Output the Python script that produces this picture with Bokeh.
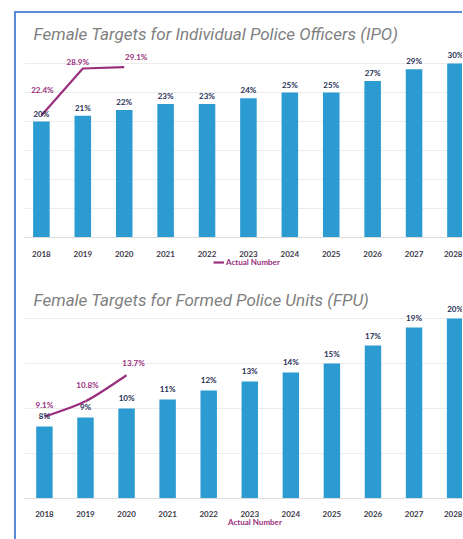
from bokeh.plotting import figure
from bokeh.models import (ColumnDataSource, Range1d, LabelSet, Label, FixedTicker, Legend,
                          LegendItem)
from bokeh.core.properties import value
from bokeh.layouts import column
from bokeh.embed import file_html
from bokeh.resources import INLINE

years = ["2018", "2019", "2020", "2021", "2022", "2023", "2024", "2025", "2026", "2027", "2028"]
ipo_target = [20, 21, 22, 23, 23, 24, 25, 25, 27, 29, 30]
ipo_actual = [22.4, 28.9, 29.1]
fpu_target = [8, 9, 10, 11, 12, 13, 14, 15, 17, 19, 20]
fpu_actual = [9.1, 10.8, 13.7]

ipo_title = "Female Targets for Individual Police Officers (IPO)"
fpu_title = "Female Targets for Formed Police Units (FPU)"
legend_text = "Actual Number"

# label placement (screen px), style only
ipo_lbl_dx = [1, -5, 12]
ipo_lbl_dy = [25, 6, 10]
fpu_lbl_dx = [0, 2, 7]
fpu_lbl_dy = [12, 16, 12]

BAR = "#2b9bd2"
PURPLE = "#9a2f7e"
NAVY = "#1f2f55"
GRID = "#ececec"
TITLE_C = "#7f7f7f"
SMALL_FONT = "Lato"


def make_chart(title, target, actual, dx, dy, height, xr, yr, line_range, bar_dy,
               title_dy, legend_loc, smooth, grid_ticks):
    p = figure(width=446, height=height, output_backend="svg", toolbar_location=None,
               x_range=Range1d(*xr), y_range=Range1d(*yr),
               min_border_left=8, min_border_right=0,
               min_border_top=0, min_border_bottom=0)
    p.outline_line_color = None
    p.yaxis.visible = False
    p.xgrid.visible = False
    p.ygrid.grid_line_color = GRID
    p.ygrid.ticker = FixedTicker(ticks=grid_ticks)

    idx = list(range(len(years)))
    src = ColumnDataSource(dict(x=idx, y=target, lbl=[f"{v}%" for v in target]))
    p.vbar(x="x", top="y", width=0.4, source=src, color=BAR, line_color=None)
    p.add_layout(LabelSet(x="x", y="y", text="lbl", source=src, y_offset=bar_dy,
                          text_align="center", text_baseline="middle",
                          text_font=value(SMALL_FONT), text_font_style="bold",
                          text_font_size="8px", text_color=NAVY))

    yname = "default"
    if line_range is not None:
        p.extra_y_ranges = {"act": Range1d(*line_range)}
        yname = "act"
    ax_x = idx[:len(actual)]
    asrc = ColumnDataSource(dict(x=ax_x, y=actual,
                                 lbl=[f"{v}%" for v in actual], dx=dx, dy=dy))
    if smooth:
        n = len(actual)
        P = list(zip(ax_x, actual))
        seg = dict(x0=[], y0=[], x1=[], y1=[], cx0=[], cy0=[], cx1=[], cy1=[])
        for i in range(n - 1):
            pm = P[max(i - 1, 0)]
            p0 = P[i]
            p1 = P[i + 1]
            pp = P[min(i + 2, n - 1)]
            seg["x0"].append(p0[0]); seg["y0"].append(p0[1])
            seg["x1"].append(p1[0]); seg["y1"].append(p1[1])
            seg["cx0"].append(p0[0] + (p1[0] - pm[0]) / 6)
            seg["cy0"].append(p0[1] + (p1[1] - pm[1]) / 6)
            seg["cx1"].append(p1[0] - (pp[0] - p0[0]) / 6)
            seg["cy1"].append(p1[1] - (pp[1] - p0[1]) / 6)
        p.bezier(x0="x0", y0="y0", x1="x1", y1="y1", cx0="cx0", cy0="cy0",
                 cx1="cx1", cy1="cy1", source=ColumnDataSource(seg),
                 line_color=PURPLE, line_width=2.2, y_range_name=yname)
        r = p.line(x=[], y=[], line_color=PURPLE, line_width=2.2)
    else:
        r = p.line(x="x", y="y", source=asrc, line_color=PURPLE, line_width=2.2,
                   y_range_name=yname)
    p.add_layout(LabelSet(x="x", y="y", text="lbl", source=asrc, x_offset="dx", y_offset="dy",
                          y_range_name=yname,
                          text_align="center", text_baseline="middle",
                          text_font=value(SMALL_FONT), text_font_style="bold",
                          text_font_size="8px", text_color=PURPLE))

    ax = p.xaxis[0]
    ax.fixed_location = 0
    ax.ticker = FixedTicker(ticks=idx)
    ax.major_label_overrides = {i: y for i, y in zip(idx, years)}
    ax.axis_line_color = "#dcdcdc"
    ax.major_tick_line_color = None
    ax.minor_tick_line_color = None
    ax.major_label_standoff = 7
    ax.major_label_text_font = SMALL_FONT
    ax.major_label_text_font_style = "bold"
    ax.major_label_text_font_size = "8px"
    ax.major_label_text_color = "#3a3a4a"

    leg = Legend(items=[LegendItem(label=legend_text, renderers=[r])],
                 orientation="horizontal", location=legend_loc,
                 label_text_font=SMALL_FONT, label_text_font_size="8px",
                 label_text_font_style="bold",
                 label_text_color=PURPLE, glyph_width=11, glyph_height=6,
                 label_standoff=2, label_height=8, padding=0, margin=0,
                 border_line_alpha=0, background_fill_alpha=0)
    p.add_layout(leg)

    p.add_layout(Label(x=xr[0], y=yr[1], x_offset=9, y_offset=-title_dy, text=title,
                       text_font="Roboto", text_font_style="italic",
                       text_font_size="17px", text_color=TITLE_C,
                       text_baseline="middle", text_align="left"))
    return p


p1 = make_chart(ipo_title, ipo_target, ipo_actual, ipo_lbl_dx, ipo_lbl_dy,
                262, (-0.408, 10.17), (-6.55, 38.62), (0.28, 36.5), 8,
                20, (189, 8), False, [0, 5, 10, 15, 20, 25, 30])
p2 = make_chart(fpu_title, fpu_target, fpu_actual, fpu_lbl_dx, fpu_lbl_dy,
                264, (-0.485, 10.18), (-4.56, 24.78), None, 10,
                24, (191, 12), True, [0, 5, 10, 15, 20])

layout = column(p1, p2, spacing=0, margin=(11, 0, 0, 14),
                styles={"border-left": "2px solid #5b8ad6", "border-top": "2px solid #5b8ad6"})

open("out.html", "w").write(file_html(layout, INLINE))
